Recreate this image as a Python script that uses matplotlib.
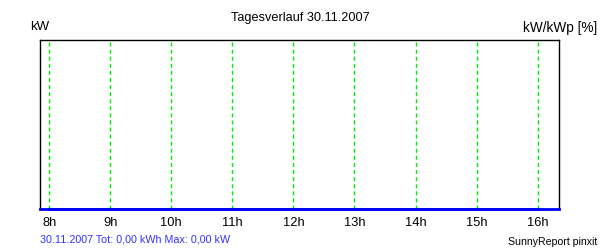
import matplotlib
matplotlib.use('Agg')
import matplotlib.pyplot as plt

plt.rcParams['font.family'] = ['Liberation Sans', 'DejaVu Sans']
plt.rcParams['lines.scale_dashes'] = False

# Tagesverlauf data (no yield that day)
hours = [8, 9, 10, 11, 12, 13, 14, 15, 16]
tick_labels = ['8h', '9h', '10h', '11h', '12h', '13h', '14h', '15h', '16h']
power_kw = [0, 0, 0, 0, 0, 0, 0, 0, 0]

title = 'Tagesverlauf 30.11.2007'
summary = '30.11.2007 Tot: 0,00 kWh Max: 0,00 kW'

fig = plt.figure(figsize=(6, 2.5), dpi=100)
ax = fig.add_axes([40/600, 1 - 209/250, 519/600, 169/250])

ax.plot(hours, power_kw, color='#0000ff', lw=2, clip_on=False, zorder=5)

ax.set_xlim(7.85, 16.35)
ax.set_ylim(0, 1)
ax.set_xticks(hours)
ax.set_xticklabels(tick_labels, fontsize=9.3)
ax.set_yticks([])
ax.tick_params(axis='x', length=0, pad=6)

for h in hours:
    ax.axvline(h, color='#00ee00', lw=1, linestyle=(0, (2.9, 2.2)))

for s in ['left', 'top', 'right']:
    ax.spines[s].set_linewidth(1)
    ax.spines[s].set_color('black')
ax.spines['bottom'].set_color('#0000ff')
ax.spines['bottom'].set_linewidth(2)

fig.text(0.5, 1 - 18/250, title, ha='center', va='center', fontsize=9.2)
fig.text(30/600, 1 - 27/250, 'kW', ha='left', va='center', fontsize=9.5)
fig.text(597/600, 1 - 28/250, 'kW/kWp [%]', ha='right', va='center', fontsize=9.8)
fig.text(40/600, 1 - 240/250, summary, ha='left', va='center', fontsize=7.75, color='#3333ff')
fig.text(597/600, 1 - 242/250, 'SunnyReport pinxit', ha='right', va='center', fontsize=7.6)

fig.savefig('out.png', dpi=100)
